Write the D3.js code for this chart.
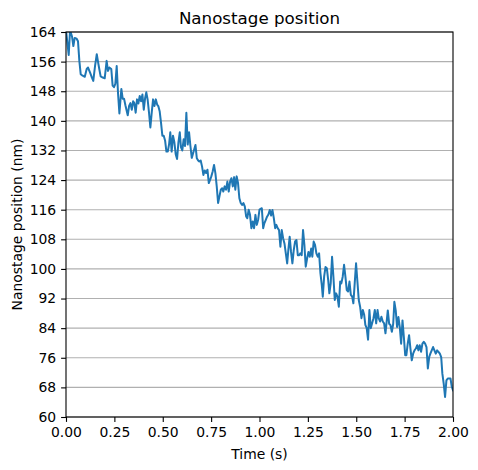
<!DOCTYPE html>
<html>
<head>
<meta charset="utf-8">
<script src="https://d3js.org/d3.v7.min.js"></script>
<style>
  body { margin: 0; background: #fff; }
  svg text { font-family: "DejaVu Sans", sans-serif; fill: #000; }
</style>
</head>
<body>
<svg width="478" height="470"></svg>
<script>
// values
const times = [
  0.000, 0.014, 0.021, 0.031, 0.038, 0.045, 0.055, 0.062, 0.069, 0.076,
  0.086, 0.097, 0.107, 0.114, 0.124, 0.134, 0.141, 0.150, 0.159, 0.166,
  0.172, 0.179, 0.190, 0.200, 0.210, 0.217, 0.224, 0.234, 0.241, 0.248,
  0.255, 0.262, 0.269, 0.276, 0.286, 0.293, 0.300, 0.307,
  0.319, 0.326, 0.333, 0.340, 0.347, 0.353, 0.360, 0.367, 0.374, 0.381,
  0.388, 0.395, 0.402, 0.409, 0.415, 0.422, 0.429, 0.436, 0.443, 0.450,
  0.457, 0.464, 0.471, 0.477, 0.484, 0.491, 0.498, 0.505, 0.512, 0.519,
  0.526, 0.533, 0.539, 0.546, 0.553, 0.560, 0.567, 0.574, 0.581, 0.588,
  0.594, 0.601, 0.608, 0.615, 0.622, 0.629, 0.636, 0.643, 0.650,
  0.662, 0.669, 0.676, 0.683, 0.689, 0.696, 0.703, 0.710, 0.717, 0.724,
  0.731, 0.738, 0.745, 0.751, 0.758, 0.765, 0.772, 0.779, 0.786, 0.793,
  0.800, 0.807, 0.813, 0.820, 0.827, 0.834, 0.841, 0.848, 0.855, 0.862,
  0.869, 0.875, 0.882, 0.889, 0.896, 0.903, 0.910, 0.917, 0.924, 0.931,
  0.937, 0.944, 0.951, 0.958, 0.965, 0.972, 0.979, 0.986, 0.993, 1.000,
  1.012, 1.019, 1.025, 1.032, 1.039, 1.046, 1.053, 1.060, 1.067, 1.074,
  1.081, 1.087, 1.094, 1.101, 1.108, 1.115, 1.122, 1.129, 1.136, 1.143,
  1.149, 1.156, 1.163, 1.170, 1.177, 1.184, 1.191, 1.198, 1.205, 1.211,
  1.218, 1.225, 1.232, 1.239, 1.246, 1.253, 1.260, 1.267, 1.273, 1.280,
  1.287, 1.294, 1.301, 1.308, 1.315, 1.322,
  1.327, 1.334, 1.341, 1.348, 1.355, 1.361, 1.368, 1.375, 1.382, 1.389,
  1.396, 1.403, 1.410, 1.417, 1.423, 1.430, 1.437, 1.444, 1.451, 1.458,
  1.465, 1.472, 1.479, 1.485, 1.492, 1.499, 1.506, 1.513, 1.520, 1.527,
  1.534, 1.541, 1.547, 1.554, 1.561, 1.568, 1.575, 1.582, 1.589, 1.596,
  1.603, 1.610, 1.616, 1.623, 1.630, 1.637, 1.644, 1.651,
  1.663, 1.670, 1.677, 1.684, 1.691, 1.697, 1.704, 1.711, 1.718, 1.725,
  1.732, 1.739, 1.746, 1.753, 1.759, 1.766, 1.773, 1.780, 1.787, 1.794,
  1.801, 1.808, 1.815, 1.821, 1.828, 1.835, 1.842, 1.849, 1.856, 1.863,
  1.870, 1.877, 1.883, 1.890, 1.897, 1.904, 1.911, 1.918, 1.925, 1.932,
  1.939, 1.945, 1.952, 1.959, 1.966, 1.973, 1.980, 1.987, 1.994, 2.000
];
const positions = [
  164.5, 157.8, 164.5, 162.8, 160.2, 162.4, 162.2, 161.5, 156.2, 152.6,
  152.2, 151.9, 154.0, 154.4, 153.1, 151.7, 150.8, 154.8, 158.0, 155.8,
  154.0, 152.0, 151.7, 151.5, 156.2, 153.5, 154.4, 154.0, 149.5, 149.1,
  150.0, 154.8, 147.3, 142.0, 148.6, 146.0, 146.0, 144.2,
  141.5, 144.0, 144.8, 143.0, 145.3, 144.8, 142.2, 145.8, 144.7, 146.7,
  145.3, 147.1, 143.0, 146.2, 147.7, 145.7, 142.2, 138.2, 142.2, 145.8,
  144.0, 145.8, 144.4, 144.0, 142.6, 139.5, 136.0, 136.0, 134.7, 131.7,
  131.7, 133.8, 136.9, 131.7, 136.0, 134.2, 131.0, 129.7, 134.2, 136.9,
  132.9, 132.0, 135.0, 133.2, 142.2, 133.6, 136.9, 133.2, 130.0,
  132.2, 133.5, 129.9, 129.3, 129.0, 129.3, 127.7, 125.4, 126.6, 125.9,
  126.8, 123.2, 124.1, 125.0, 126.3, 128.1, 125.9, 122.3, 117.8, 119.6,
  121.4, 121.8, 120.9, 122.3, 121.4, 123.6, 120.9, 123.6, 124.5, 122.3,
  124.8, 121.4, 125.0, 123.2, 119.1, 117.8, 117.3, 117.8, 116.9, 114.2,
  113.7, 116.0, 114.6, 111.0, 112.8, 111.0, 114.6, 111.9, 113.3, 116.0,
  116.4, 111.0, 112.3, 113.2, 114.1, 114.7, 115.9, 114.4, 115.9, 113.7,
  111.0, 111.9, 111.0, 110.5, 106.0, 110.5, 108.3, 106.9, 104.2, 101.5,
  105.1, 108.7, 104.6, 101.5, 105.1, 107.4, 107.8, 103.7, 103.7, 104.2,
  103.7, 110.5, 106.5, 100.6, 102.8, 104.6, 103.3, 105.5, 103.3, 107.4,
  106.5, 104.2, 103.3, 104.2, 98.8, 95.6,
  92.5, 97.9, 100.5, 100.2, 97.0, 93.4, 96.1, 103.3, 97.9, 91.6,
  93.4, 92.5, 89.8, 96.6, 96.1, 97.9, 101.1, 97.9, 94.3, 93.9,
  96.6, 93.0, 92.5, 90.7, 96.1, 101.5, 96.6, 91.6, 89.8, 86.7,
  88.9, 87.6, 84.9, 84.0, 80.9, 88.9, 84.0, 85.3, 86.7, 88.9,
  85.3, 88.9, 86.7, 85.8, 87.1, 85.8, 85.3, 82.6,
  88.8, 85.2, 84.8, 83.0, 85.2, 91.1, 88.8, 84.3, 87.0, 84.3,
  79.8, 86.1, 81.6, 76.7, 76.7, 79.8, 82.1, 78.5, 75.3, 77.1,
  78.0, 78.5, 79.4, 78.0, 79.4, 77.6, 79.8, 80.3, 79.8, 78.9,
  73.1, 76.2, 77.1, 78.0, 78.9, 78.0, 77.1, 78.0, 77.6, 77.1,
  76.2, 71.7, 69.0, 65.4, 69.9, 70.4, 70.4, 70.4, 68.1, 67.2
];
const xTicks = [0, 0.25, 0.5, 0.75, 1.0, 1.25, 1.5, 1.75, 2.0];
const yTicks = [60, 68, 76, 84, 92, 100, 108, 116, 124, 132, 140, 148, 156, 164];

const plotL = 66, plotR = 453, plotT = 32, plotB = 417;
const svg = d3.select('svg');

const x = d3.scaleLinear().domain([0, 2]).range([plotL, plotR]);
const y = d3.scaleLinear().domain([60, 164]).range([plotB, plotT]);

// horizontal grid
svg.append('g').selectAll('line')
  .data(yTicks)
  .enter().append('line')
    .attr('x1', plotL).attr('x2', plotR)
    .attr('y1', d => y(d)).attr('y2', d => y(d))
    .attr('stroke', '#b0b0b0').attr('stroke-width', 1.1);

svg.append('clipPath').attr('id', 'plotclip')
  .append('rect').attr('x', plotL).attr('y', plotT)
  .attr('width', plotR - plotL).attr('height', plotB - plotT);

const pts = times.map((t, i) => [t, positions[i]]);
svg.append('path')
  .datum(pts)
  .attr('clip-path', 'url(#plotclip)')
  .attr('fill', 'none')
  .attr('stroke', '#1f77b4')
  .attr('stroke-width', 2)
  .attr('stroke-linejoin', 'round')
  .attr('stroke-linecap', 'square')
  .attr('d', d3.line().x(d => x(d[0])).y(d => y(d[1])));

// axes
const xAxis = svg.append('g').attr('transform', 'translate(0,' + plotB + ')')
  .call(d3.axisBottom(x).tickValues(xTicks).tickFormat(d3.format('.2f'))
    .tickSize(4.9).tickPadding(4.9).tickSizeOuter(0));
const yAxis = svg.append('g').attr('transform', 'translate(' + plotL + ',0)')
  .call(d3.axisLeft(y).tickValues(yTicks).tickFormat(d3.format('d'))
    .tickSize(4.9).tickPadding(4.9).tickSizeOuter(0));
[xAxis, yAxis].forEach(g => {
  g.select('.domain').remove();
  g.selectAll('line').attr('stroke', '#000').attr('stroke-width', 1.1);
  g.selectAll('text').style('font-size', '13.9px').style('font-family', '"DejaVu Sans", sans-serif').attr('fill', '#000');
});

// frame
svg.append('rect')
  .attr('x', plotL).attr('y', plotT)
  .attr('width', plotR - plotL).attr('height', plotB - plotT)
  .attr('fill', 'none').attr('stroke', '#000').attr('stroke-width', 1.1);

svg.append('text')
  .attr('x', (plotL + plotR) / 2).attr('y', 24)
  .attr('text-anchor', 'middle')
  .style('font-size', '16.7px')
  .text('Nanostage position');

svg.append('text')
  .attr('x', (plotL + plotR) / 2).attr('y', 459)
  .attr('text-anchor', 'middle')
  .style('font-size', '13.9px')
  .text('Time (s)');

svg.append('text')
  .attr('transform', 'translate(22,' + ((plotT + plotB) / 2) + ') rotate(-90)')
  .attr('text-anchor', 'middle')
  .style('font-size', '13.9px')
  .text('Nanostage position (nm)');
</script>
</body>
</html>
